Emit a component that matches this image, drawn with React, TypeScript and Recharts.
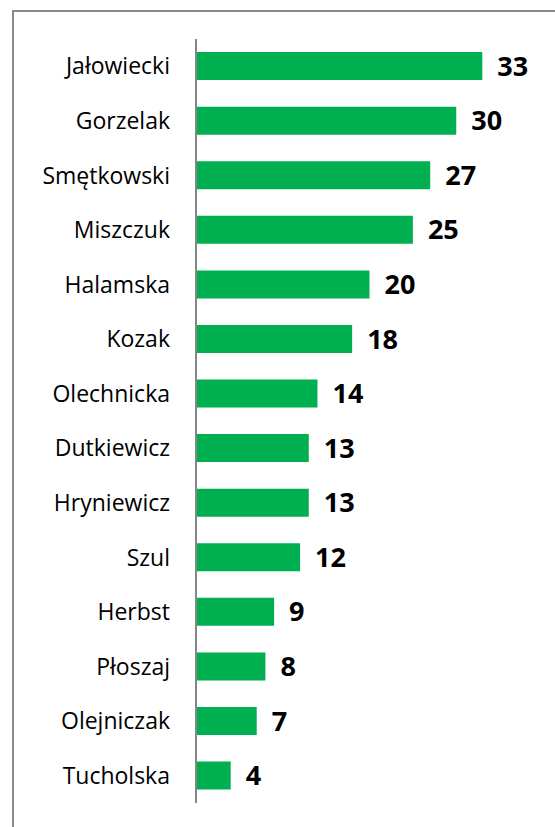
import React from 'react';
import { BarChart, Bar, XAxis, YAxis, LabelList } from 'recharts';

// names top to bottom, counts
const names = [
  'Jałowiecki', 'Gorzelak', 'Smętkowski', 'Miszczuk', 'Halamska', 'Kozak', 'Olechnicka',
  'Dutkiewicz', 'Hryniewicz', 'Szul', 'Herbst', 'Płoszaj', 'Olejniczak', 'Tucholska',
];
const counts = [33, 30, 27, 25, 20, 18, 14, 13, 13, 12, 9, 8, 7, 4];

const data = names.map((name, i) => ({ name, count: counts[i] }));

const App: React.FC = () => {
  return (
    <div style={{ position: 'fixed', left: 0, top: 0, width: 555, height: 827, overflow: 'hidden', background: '#fff' }}>
      <div
        style={{
          position: 'absolute', left: 12, top: 10, width: 560, height: 830,
          border: '2px solid #8a8a8a', boxSizing: 'border-box',
        }}
      />
      <div style={{ position: 'absolute', left: 0, top: 0 }}>
        <BarChart
          width={555}
          height={827}
          data={data}
          layout="vertical"
          margin={{ top: 39, right: 12, bottom: 24, left: 0 }}
          barCategoryGap="24%"
        >
          <XAxis type="number" domain={[0, 40]} hide />
          <YAxis
            type="category"
            dataKey="name"
            width={196}
            tickLine={false}
            tickSize={0}
            tickMargin={26}
            axisLine={{ stroke: '#868686', strokeWidth: 2 }}
            tick={{ fontSize: 23, fill: '#000', fontFamily: 'Open Sans' }}
            interval={0}
          />
          <Bar dataKey="count" fill="#00b050" isAnimationActive={false}>
            <LabelList
              dataKey="count"
              position="right"
              offset={15}
              fill="#000"
              style={{ fontSize: 27, fontWeight: 'bold', fontFamily: 'Open Sans' }}
            />
          </Bar>
        </BarChart>
      </div>
    </div>
  );
};

export default App;
